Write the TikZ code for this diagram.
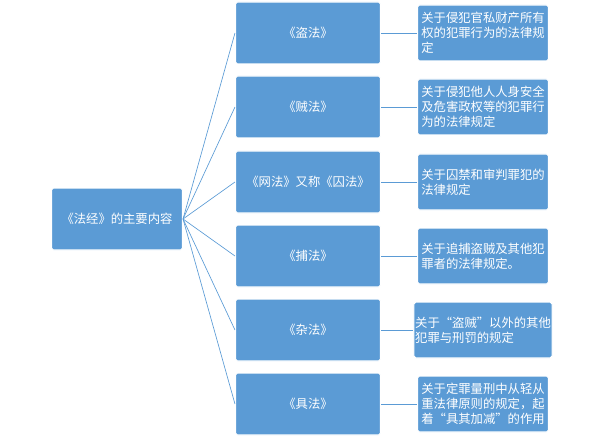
\documentclass[tikz,border=0pt]{standalone}
\usepackage{fontspec}
\newfontfamily\cjk{Noto Sans CJK SC}
\usetikzlibrary{positioning}
\definecolor{boxblue}{HTML}{5B9BD5}
\definecolor{lineblue}{HTML}{5B9BD5}

\begin{document}
\begin{tikzpicture}[x=0.0265cm, y=-0.0265cm,
  box/.style 2 args={rectangle, rounded corners=1.5pt, draw=white, line width=0.8pt, fill=boxblue,
    minimum width=#1, minimum height=#2, text=white, font=\cjk\fontsize{9.3}{11.2}\selectfont, align=left, inner sep=1pt},
  link/.style={draw=lineblue, line width=0.5pt}]
  \useasboundingbox (0,0) rectangle (600,439);

  \node[box={131*0.0265cm}{62*0.0265cm}] (root) at (117,219) {《法经》的主要内容};

  \foreach \i/\yy/\mtext/\rtext in {
      1/33/{《盗法》}/{关于侵犯官私财产所有\\权的犯罪行为的法律规\\定},
      2/107/{《贼法》}/{关于侵犯他人人身安全\\及危害政权等的犯罪行\\为的法律规定},
      3/182/{《网法》又称《囚法》}/{关于囚禁和审判罪犯的\\法律规定},
      4/256/{《捕法》}/{关于追捕盗贼及其他犯\\罪者的法律规定。},
      5/330/{《杂法》}/{关于“盗贼”以外的其他\\犯罪与刑罚的规定},
      6/404/{《具法》}/{关于定罪量刑中从轻从\\重法律原则的规定，起\\着“具其加减”的作用}}
  {
    \node[box={145*0.0265cm}{62*0.0265cm}, align=center] (m\i) at (308,\yy) {\mtext};
    \node[box={131*0.0265cm}{56*0.0265cm}] (r\i) at (483,\yy) {\rtext};
    \draw[link] (root.east) -- (m\i.west);
    \draw[link] (m\i.east) -- (r\i.west);
  }
\end{tikzpicture}
\end{document}
